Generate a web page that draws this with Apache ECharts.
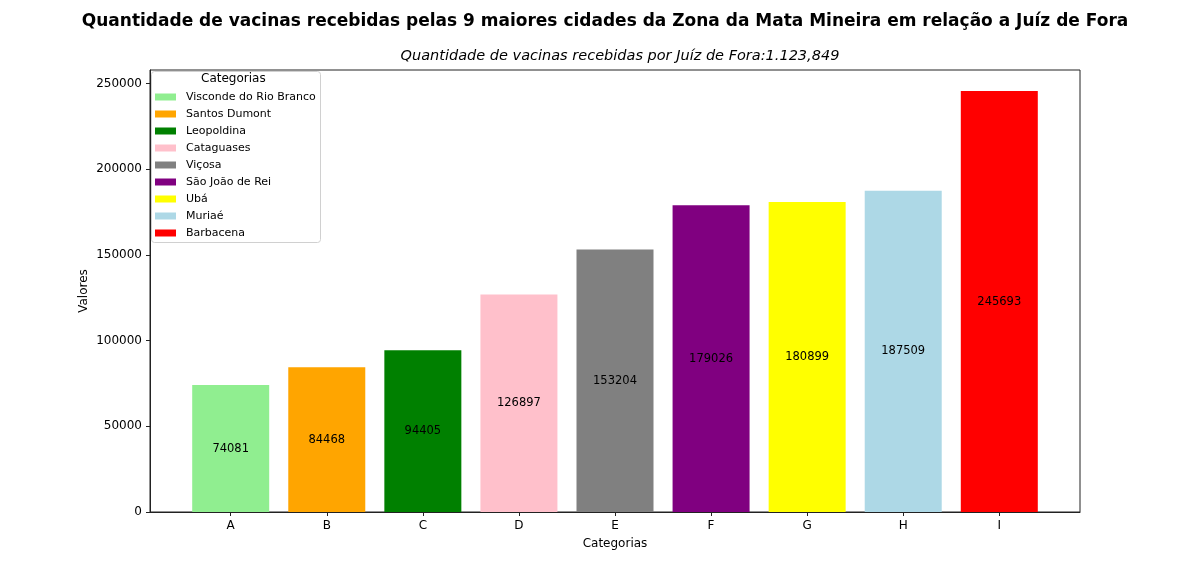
<!DOCTYPE html>
<html>
<head>
<meta charset="utf-8">
<script src="https://cdn.jsdelivr.net/npm/echarts@6/dist/echarts.min.js"></script>
<style>html,body{margin:0;padding:0;background:#fff;}#c{width:1200px;height:575px;}</style>
</head>
<body>
<div id="c"></div>
<script>
const categories = ['A','B','C','D','E','F','G','H','I'];
const cities = ['Visconde do Rio Branco','Santos Dumont','Leopoldina','Cataguases','Viçosa','São João de Rei','Ubá','Muriaé','Barbacena'];
const values = [74081, 84468, 94405, 126897, 153204, 179026, 180899, 187509, 245693];
const colors = ['#90ee90','#ffa500','#008000','#ffc0cb','#808080','#800080','#ffff00','#add8e6','#ff0000'];
const yTicks = [0, 50000, 100000, 150000, 200000, 250000];

const FONT = 'DejaVu Sans';
const chart = echarts.init(document.getElementById('c'));
const series = cities.map((name, i) => ({
  name: name,
  type: 'bar',
  barWidth: 77,
  barGap: '-100%',
  itemStyle: { color: colors[i] },
  label: { show: true, position: 'inside', color: '#000', fontSize: 11.5, fontFamily: FONT,
           formatter: p => String(p.value[1]) },
  data: [[i, values[i]]]
}));

chart.setOption({
  animation: false,
  textStyle: { fontFamily: FONT },
  title: [
    { text: 'Quantidade de vacinas recebidas pelas 9 maiores cidades da Zona da Mata Mineira em relação a Juíz de Fora',
      left: 600, textAlign: 'center', top: 8,
      textStyle: { fontSize: 17, fontWeight: 'bold', color: '#000', fontFamily: FONT } },
    { text: 'Quantidade de vacinas recebidas por Juíz de Fora:1.123,849',
      left: 615, textAlign: 'center', top: 44,
      textStyle: { fontSize: 14.5, fontStyle: 'italic', fontWeight: 'normal', color: '#000', fontFamily: FONT } }
  ],
  grid: { left: 150, right: 120, top: 70, bottom: 63, show: true, borderColor: '#222', borderWidth: 1, backgroundColor: 'transparent' },
  xAxis: {
    type: 'value', min: -0.84, max: 8.84,
    name: 'Categorias', nameLocation: 'middle', nameGap: 26,
    nameTextStyle: { fontSize: 12, color: '#000', fontFamily: FONT },
    axisLine: { show: true, onZero: false, lineStyle: { color: '#222' } },
    axisTick: { show: true, length: 4, lineStyle: { color: '#222' }, customValues: [0,1,2,3,4,5,6,7,8] },
    axisLabel: { fontSize: 12, color: '#000', margin: 8, fontFamily: FONT, customValues: [0,1,2,3,4,5,6,7,8],
                 formatter: v => categories[Math.round(v)] },
    splitLine: { show: false }
  },
  yAxis: {
    type: 'value', min: 0, max: 245693 * 1.05, interval: 50000,
    name: 'Valores', nameLocation: 'middle', nameGap: 60, nameRotate: 90, nameMoveOverlap: false,
    nameTextStyle: { fontSize: 12, color: '#000', fontFamily: FONT },
    axisLine: { show: true, onZero: false, lineStyle: { color: '#222' } },
    axisTick: { show: true, length: 4, lineStyle: { color: '#222' }, customValues: yTicks },
    axisLabel: { fontSize: 12, color: '#000', margin: 8, fontFamily: FONT, customValues: yTicks,
                 formatter: v => String(v) },
    splitLine: { show: false }
  },
  legend: {
    orient: 'vertical', left: 150, top: 85, z: 10,
    itemWidth: 21, itemHeight: 7, itemGap: 3,
    icon: 'rect',
    textStyle: { fontSize: 11, color: '#000', fontFamily: FONT, lineHeight: 14, padding: [0, 0, 0, 5] },
    data: cities
  },
  graphic: [
    { type: 'rect', left: 151, top: 71, z: 1, silent: true,
      shape: { width: 169, height: 171, r: 3 },
      style: { fill: 'rgba(255,255,255,0.8)', stroke: '#d0d0d0', lineWidth: 1 } },
    { type: 'text', left: 201, top: 73, z: 11,
      style: { text: 'Categorias', font: '12px "DejaVu Sans"', fill: '#000' } }
  ],
  series: series
});
</script>
</body>
</html>
